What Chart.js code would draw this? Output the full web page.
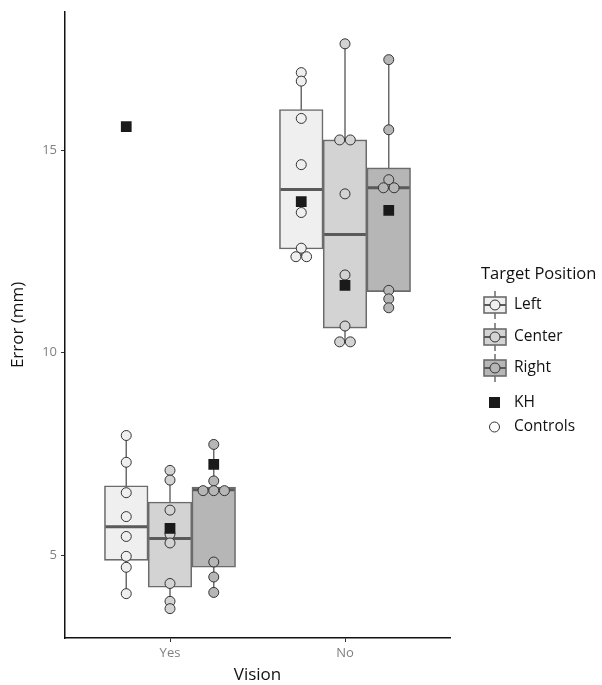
<!DOCTYPE html>
<html>
<head>
<meta charset="utf-8">
<script src="https://cdn.jsdelivr.net/npm/chart.js@4.4.1/dist/chart.umd.min.js"></script>
<style>
  body { margin: 0; background: #fff; font-family: "Open Sans", sans-serif; }
  #wrap { position: relative; width: 602px; height: 685px; }
  .lg { position: absolute; color: #111; white-space: nowrap; line-height: 1; }
  .lg-title { font-size: 16.5px; }
  .lg-item { font-size: 15.5px; }
  .key { position: absolute; }
</style>
</head>
<body>
<div id="wrap">
  <canvas id="chart" width="602" height="685"></canvas>
  <div id="legend"></div>
</div>
<script>
const vision = ["Yes", "No"];
const positions = ["Left", "Center", "Right"];
const yTicks = [5, 10, 15];

// box stats, order: Yes-Left, Yes-Center, Yes-Right, No-Left, No-Center, No-Right
const whiskerLow  = [4.06, 3.69, 4.09, 12.37, 10.27, 11.11];
const boxQ1       = [4.88, 4.22, 4.71, 12.56, 10.61, 11.51];
const boxMedian   = [5.71, 5.42, 6.62, 14.03, 12.92, 14.07];
const boxQ3       = [6.72, 6.32, 6.69, 16.00, 15.25, 14.56];
const whiskerHigh = [7.96, 7.10, 7.74, 16.91, 17.62, 17.23];

// patient KH, same order
const khError = [15.58, 5.67, 7.25, 13.73, 11.66, 13.51];

// controls
const yesLeft   = [7.96, 7.30, 6.55, 5.96, 5.47, 4.98, 4.71, 4.06];
const yesCenter = [7.10, 6.86, 6.12, 5.53, 5.31, 4.31, 3.87, 3.69];
const yesRight  = [7.74, 6.84, 6.60, 6.60, 6.60, 4.84, 4.47, 4.09];
const noLeft    = [16.91, 16.70, 15.78, 14.64, 13.46, 12.58, 12.37, 12.37];
const noCenter  = [17.62, 15.25, 15.25, 13.92, 11.92, 10.66, 10.27, 10.27];
const noRight   = [17.23, 15.50, 14.27, 14.07, 14.07, 11.54, 11.33, 11.11];

const controls = [yesLeft, yesCenter, yesRight, noLeft, noCenter, noRight];
const fills = ["#efefef", "#d3d3d3", "#b6b6b6"];
const lineGrey = "#6b6b6b";
const font = "'Open Sans', sans-serif";
const dodge = 0.25;
const dotW = 0.061; // dot width in x units

function center(i) {
  const v = Math.floor(i / 3), p = i % 3;
  return v + 1 + (p - 1) * dodge;
}

// spread equal values side by side, like a dotplot
function dots(vals, cx) {
  const out = [];
  let i = 0;
  while (i < vals.length) {
    let j = i;
    while (j + 1 < vals.length && Math.abs(vals[j + 1] - vals[i]) < 0.03) j++;
    const n = j - i + 1;
    for (let k = 0; k < n; k++) out.push({ x: cx + (k - (n - 1) / 2) * dotW, y: vals[i + k] });
    i = j + 1;
  }
  return out;
}

const whiskerData = [], medianData = [];
for (let i = 0; i < 6; i++) {
  const c = center(i);
  whiskerData.push({ x: c, y: whiskerLow[i] }, { x: c, y: whiskerHigh[i] }, { x: c, y: null });
  medianData.push({ x: c - dodge / 2 + 0.006, y: boxMedian[i] }, { x: c + dodge / 2 - 0.006, y: boxMedian[i] }, { x: c, y: null });
}

const datasets = [];
datasets.push({
  type: "line", label: "whiskers", data: whiskerData, order: 6,
  borderColor: lineGrey, borderWidth: 1.5, pointRadius: 0, spanGaps: false
});
positions.forEach((p, pi) => {
  datasets.push({
    type: "bar", label: p, order: 5, grouped: false,
    data: [0, 1].map(v => ({ x: center(v * 3 + pi), y: [boxQ1[v * 3 + pi], boxQ3[v * 3 + pi]] })),
    backgroundColor: fills[pi], borderColor: lineGrey, borderWidth: 1.6,
    borderSkipped: false, barThickness: 43.6
  });
});
datasets.push({
  type: "line", label: "medians", data: medianData, order: 4,
  borderColor: "#5a5a5a", borderWidth: 3, pointRadius: 0, spanGaps: false
});
positions.forEach((p, pi) => {
  datasets.push({
    type: "scatter", label: "Controls " + p, order: 3,
    data: [0, 1].flatMap(v => dots(controls[v * 3 + pi], center(v * 3 + pi))),
    pointRadius: 5, pointBackgroundColor: fills[pi], pointBorderColor: "#333", pointBorderWidth: 1
  });
});
datasets.push({
  type: "scatter", label: "KH", order: 2,
  data: khError.map((e, i) => ({ x: center(i), y: e })),
  pointStyle: "rect", pointRadius: 7.6, pointBackgroundColor: "#1a1a1a", pointBorderColor: "#1a1a1a", pointBorderWidth: 0
});

new Chart(document.getElementById("chart"), {
  type: "bar",
  data: { datasets },
  options: {
    responsive: false,
    animation: false,
    layout: { padding: { top: 8, right: 152, left: 0, bottom: 0 } },
    plugins: { legend: { display: false }, tooltip: { enabled: false } },
    scales: {
      x: {
        type: "linear", min: 0.4, max: 2.6, offset: false,
        afterBuildTicks: s => { s.ticks = [{ value: 1 }, { value: 2 }]; },
        afterFit: s => { s.height = 47; },
        ticks: { callback: v => vision[v - 1], color: "#808080", font: { family: font, size: 13 }, padding: 3, autoSkip: false, maxRotation: 0 },
        grid: { drawOnChartArea: false, offset: false, tickLength: 4, color: "#333" },
        border: { display: true, color: "#111", width: 1.5 },
        title: { display: true, text: "Vision", color: "#111", font: { family: font, size: 17 }, padding: { top: 0, bottom: 0 } }
      },
      y: {
        type: "linear", min: 2.966, max: 18.41,
        afterBuildTicks: s => { s.ticks = yTicks.map(v => ({ value: v })); },
        afterFit: s => { s.width = 65; },
        ticks: { color: "#808080", font: { family: font, size: 13 }, padding: 4 },
        grid: { drawOnChartArea: false, tickLength: 4, color: "#333" },
        border: { display: true, color: "#111", width: 1.5 },
        title: { display: true, text: "Error (mm)", color: "#111", font: { family: font, size: 17 }, padding: { top: 8, bottom: 0 } }
      }
    }
  }
});

// legend
const lg = document.getElementById("legend");
let html = '<div class="lg lg-title" style="left:481px;top:265px">Target Position</div>';
const keyY = [305, 337, 368];
positions.forEach((p, pi) => {
  const y = keyY[pi];
  html += `<svg class="key" width="26" height="28" style="left:482px;top:${y - 14}px">
    <line x1="13" y1="0" x2="13" y2="28" stroke="${lineGrey}" stroke-width="1.5"/>
    <rect x="2" y="6" width="22" height="16" fill="${fills[pi]}" stroke="${lineGrey}" stroke-width="1.6"/>
    <line x1="2" y1="14" x2="24" y2="14" stroke="#5a5a5a" stroke-width="2"/>
    <circle cx="13" cy="14" r="5" fill="${fills[pi]}" stroke="#333" stroke-width="1"/>
  </svg>`;
  html += `<div class="lg lg-item" style="left:514px;top:${y - 9}px">${p}</div>`;
});
html += `<svg class="key" width="14" height="14" style="left:488px;top:396px"><rect x="1" y="1" width="11" height="11" fill="#1a1a1a"/></svg>`;
html += `<div class="lg lg-item" style="left:514px;top:394px">KH</div>`;
html += `<svg class="key" width="14" height="14" style="left:488px;top:420px"><circle cx="6.5" cy="7" r="5" fill="#fff" stroke="#333" stroke-width="1"/></svg>`;
html += `<div class="lg lg-item" style="left:514px;top:418px">Controls</div>`;
lg.innerHTML = html;
</script>
</body>
</html>
